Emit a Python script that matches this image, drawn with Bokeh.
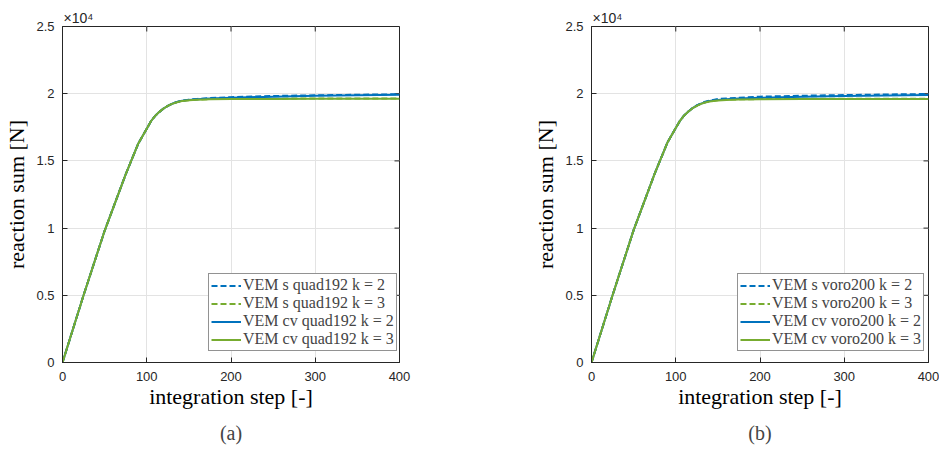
from bokeh.plotting import figure
from bokeh.layouts import row
from bokeh.models import FixedTicker, Legend, LegendItem, Title, Range1d
from bokeh.embed import file_html
from bokeh.resources import INLINE

# ---- data ----
steps = [0, 25, 50, 75, 90, 100, 105, 110, 115, 120, 125, 130, 135, 140,
         150, 160, 175, 200, 250, 300, 350, 400]

a_s_k2 = [0, 5000, 9800, 14000, 16300, 17400, 17950, 18350, 18650, 18900, 19100, 19250, 19370, 19460,
          19560, 19610, 19680, 19740, 19830, 19880, 19920, 19960]
a_s_k3 = [0, 5000, 9800, 14000, 16300, 17400, 17950, 18350, 18650, 18900, 19100, 19250, 19360, 19440,
          19520, 19560, 19600, 19620, 19630, 19640, 19640, 19640]
a_cv_k2 = [0, 5000, 9800, 14000, 16300, 17400, 17950, 18350, 18650, 18900, 19100, 19250, 19360, 19450,
           19540, 19590, 19650, 19700, 19780, 19840, 19880, 19920]
a_cv_k3 = [0, 5000, 9800, 14000, 16300, 17400, 17950, 18350, 18650, 18900, 19100, 19240, 19350, 19430,
           19510, 19550, 19580, 19600, 19610, 19620, 19620, 19620]

b_s_k2 = [0, 5000, 9850, 14050, 16350, 17450, 17980, 18380, 18680, 18930, 19130, 19280, 19400, 19480,
          19600, 19650, 19700, 19780, 19850, 19900, 19940, 19980]
b_s_k3 = [0, 5000, 9850, 14050, 16350, 17450, 17980, 18380, 18680, 18920, 19110, 19250, 19360, 19440,
          19520, 19560, 19580, 19600, 19620, 19630, 19630, 19630]
b_cv_k2 = [0, 5000, 9850, 14050, 16350, 17450, 17980, 18380, 18680, 18930, 19120, 19260, 19370, 19450,
           19540, 19590, 19640, 19700, 19770, 19820, 19860, 19900]
b_cv_k3 = [0, 5000, 9850, 14050, 16350, 17450, 17980, 18380, 18680, 18920, 19100, 19240, 19340, 19420,
           19500, 19540, 19560, 19580, 19600, 19610, 19610, 19610]

x_ticks = [0, 100, 200, 300, 400]
y_ticks = [0, 5000, 10000, 15000, 20000, 25000]
y_tick_labels = ["0", "0.5", "1", "1.5", "2", "2.5"]
y_multiplier = "×10⁴"

mesh_a = "quad192"
mesh_b = "voro200"
caption_a = "(a)"
caption_b = "(b)"

X_MAX = 400
Y_MAX = 25000

BLUE = "#0072BD"
GREEN = "#77AC30"
AX = "#262626"
GRID = "#e3e3e3"
SANS = "Liberation Sans"
SERIF = "Liberation Serif"
FRAME_W = 337
FRAME_H = 336
TICK_PX = 5
HEIGHT = 453
TOP = 26
BOTTOM = HEIGHT - TOP - FRAME_H


def make_panel(s_k2, s_k3, cv_k2, cv_k3, mesh, caption, width, bl):
    br = width - bl - FRAME_W
    p = figure(width=width, height=HEIGHT, output_backend="svg", toolbar_location=None,
               x_range=Range1d(0, X_MAX), y_range=Range1d(0, Y_MAX),
               min_border_left=bl, min_border_right=br, min_border_top=TOP,
               min_border_bottom=BOTTOM)
    p.background_fill_color = "white"
    p.border_fill_color = "white"
    p.outline_line_color = AX
    p.outline_line_width = 1

    p.xaxis.ticker = FixedTicker(ticks=x_ticks)
    p.yaxis.ticker = FixedTicker(ticks=y_ticks)
    p.yaxis.major_label_overrides = {t: l for t, l in zip(y_ticks, y_tick_labels)}
    for ax in (p.xaxis[0], p.yaxis[0]):
        ax.major_tick_in = TICK_PX
        ax.major_tick_out = 0
        ax.minor_tick_in = 0
        ax.minor_tick_out = 0
        ax.axis_line_color = AX
        ax.major_tick_line_color = AX
        ax.major_label_text_font = SANS
        ax.major_label_text_font_size = "13px"
        ax.major_label_text_color = AX
        ax.axis_label_text_font = SERIF
        ax.axis_label_text_font_style = "normal"
        ax.axis_label_text_color = "#000000"
        ax.axis_label_text_font_size = "22px"
    p.xaxis.axis_label = "integration step [-]"
    p.xaxis.major_label_standoff = 9
    p.xaxis.axis_label_standoff = 0
    p.yaxis.axis_label = "reaction sum [N]"
    p.yaxis.major_label_standoff = 8
    p.yaxis.axis_label_standoff = 4

    # inward ticks on the top and right edges of the box, at the tick positions
    dy = Y_MAX * TICK_PX / FRAME_H
    dx = X_MAX * TICK_PX / FRAME_W
    p.segment(x0=x_ticks, y0=[Y_MAX] * len(x_ticks), x1=x_ticks, y1=[Y_MAX - dy] * len(x_ticks),
              line_color=AX, line_width=1)
    p.segment(x0=[X_MAX] * len(y_ticks), y0=y_ticks, x1=[X_MAX - dx] * len(y_ticks), y1=y_ticks,
              line_color=AX, line_width=1)

    p.xgrid.grid_line_color = GRID
    p.ygrid.grid_line_color = GRID
    p.xgrid.ticker = FixedTicker(ticks=x_ticks)
    p.ygrid.ticker = FixedTicker(ticks=y_ticks)

    r1 = p.line(steps, s_k2, line_color=BLUE, line_width=2, line_dash="6 3")
    r2 = p.line(steps, s_k3, line_color=GREEN, line_width=2, line_dash="6 3")
    r3 = p.line(steps, cv_k2, line_color=BLUE, line_width=2)
    r4 = p.line(steps, cv_k3, line_color=GREEN, line_width=2)

    legend = Legend(items=[
        LegendItem(label="VEM s %s k = 2" % mesh, renderers=[r1]),
        LegendItem(label="VEM s %s k = 3" % mesh, renderers=[r2]),
        LegendItem(label="VEM cv %s k = 2" % mesh, renderers=[r3]),
        LegendItem(label="VEM cv %s k = 3" % mesh, renderers=[r4]),
    ])
    legend.margin = 0
    legend.location = (146, 11)
    legend.padding = 2
    legend.spacing = 0
    legend.label_text_font = SERIF
    legend.label_text_font_size = "16px"
    legend.label_height = 17
    legend.glyph_height = 17
    legend.glyph_width = 30
    legend.label_standoff = 2
    legend.border_line_color = AX
    legend.border_line_width = 1
    legend.background_fill_alpha = 1
    p.add_layout(legend, "center")

    p.add_layout(Title(text=y_multiplier, align="left", text_font=SANS, text_font_size="14px",
                       text_font_style="normal", text_color=AX, standoff=2, offset=1), "above")

    p.add_layout(Title(text=caption, align="center", text_font=SERIF, text_font_size="20px",
                       text_font_style="normal", standoff=17, vertical_align="bottom"), "below")
    return p


pa = make_panel(a_s_k2, a_s_k3, a_cv_k2, a_cv_k3, mesh_a, caption_a, 466, 62)
pb = make_panel(b_s_k2, b_s_k3, b_cv_k2, b_cv_k3, mesh_b, caption_b, 473, 125)

layout = row(pa, pb)
open("out.html", "w").write(file_html(layout, INLINE))
